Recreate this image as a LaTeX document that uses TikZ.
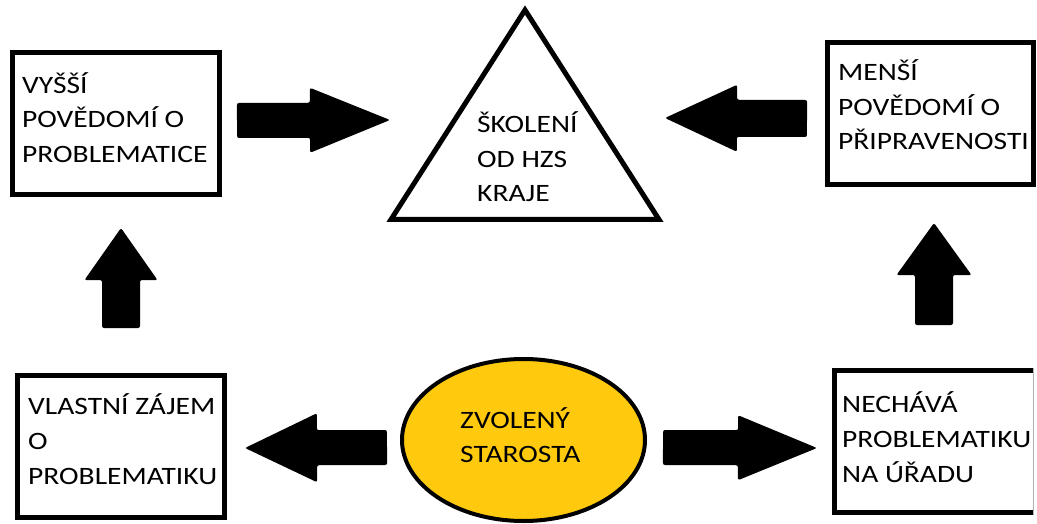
\documentclass[tikz,border=0pt]{standalone}
\usepackage{fontspec}
\setmainfont{Carlito}[FakeStretch=1.18]
\usetikzlibrary{calc}
\definecolor{gold}{HTML}{FFC90E}
\newcommand\blockarrow[5]{% #1 tail, #2 tip, #3 half shaft, #4 half head, #5 head length
  \coordinate (bah) at ($(#2)!#5!(#1)$);
  \fill[arrowbody] ($(#1)!#3!90:(#2)$) -- ($(bah)!#3!90:(#2)$) -- ($(bah)!#4!90:(#2)$) -- (#2)
    -- ($(bah)!#4!-90:(#2)$) -- ($(bah)!#3!-90:(#2)$) -- ($(#1)!#3!-90:(#2)$) -- cycle;
}
\begin{document}
\begin{tikzpicture}[x=1pt,y=-1pt,
  boxstyle/.style={draw=black, line width=5pt, fill=white},
  lbl/.style={anchor=base west, align=left, inner sep=0pt, font=\fontsize{25}{35}\selectfont},
  arrowbody/.style={fill=black, rounded corners=2pt}]
\useasboundingbox (0,0) rectangle (1037,524);
\fill[white] (0,0) rectangle (1037,524);

% boxes
\draw[boxstyle] (12.5,52.5) rectangle (219.5,194.5);
\coordinate (tl) at (116,123);
\node[lbl] (tltext) at (22,163) {VYŠŠÍ\\POVĚDOMÍ O\\PROBLEMATICE};

\draw[boxstyle] (827.5,42.5) rectangle (1033.5,184.5);
\coordinate (tr) at (930,113);
\node[lbl] (trtext) at (838,150) {MENŠÍ\\POVĚDOMÍ O\\PŘIPRAVENOSTI};

\draw[boxstyle] (17.5,375.5) rectangle (224.5,517.5);
\coordinate (bl) at (121,446);
\node[lbl] (bltext) at (28,484) {VLASTNÍ ZÁJEM\\O\\PROBLEMATIKU};

\begin{scope}
\clip (820,300) rectangle (1033,524);
\draw[boxstyle] (834.5,370.5) rectangle (1045,512.5);
\end{scope}
\draw[gray!60, line width=0.8pt] (1033.4,368) -- (1033.4,515);
\coordinate (br) at (934,441);
\node[lbl] (brtext) at (842,482) {NECHÁVÁ\\PROBLEMATIKU\\NA ÚŘADU};

% triangle
\draw[line width=5pt, line join=miter, fill=white] (391,219.5) -- (525,10) -- (659,219.5) -- cycle;
\coordinate (tri) at (525,150);
\node[lbl] (tritext) at (477,202) {ŠKOLENÍ\\OD HZS\\KRAJE};

% ellipse
\draw[line width=4pt, fill=gold] (523.5,440) ellipse [x radius=121.5, y radius=81];
\coordinate (ell) at (523.5,440);
\node[lbl, font=\fontsize{25}{34}\selectfont] (elltext) at (460,462) {ZVOLENÝ\\STAROSTA};

% arrows
\coordinate (a1s) at (237,120.5); \coordinate (a1e) at (390,120);
\coordinate (a2s) at (807,118.5); \coordinate (a2e) at (665,118);
\coordinate (a3s) at (121,328);   \coordinate (a3e) at (121,228);
\coordinate (a4s) at (934,325);   \coordinate (a4e) at (934,223);
\coordinate (a5s) at (387,447.5); \coordinate (a5e) at (245,448);
\coordinate (a6s) at (663,447.5); \coordinate (a6e) at (817,448);
\blockarrow{a1s}{a1e}{17.5pt}{32.5pt}{80pt}
\blockarrow{a2s}{a2e}{18.5pt}{33.5pt}{72pt}
\blockarrow{a3s}{a3e}{19pt}{36.5pt}{52pt}
\blockarrow{a4s}{a4e}{19pt}{37.5pt}{52pt}
\blockarrow{a5s}{a5e}{17.5pt}{34.5pt}{72pt}
\blockarrow{a6s}{a6e}{17.5pt}{32.5pt}{79pt}
\end{tikzpicture}
\end{document}
